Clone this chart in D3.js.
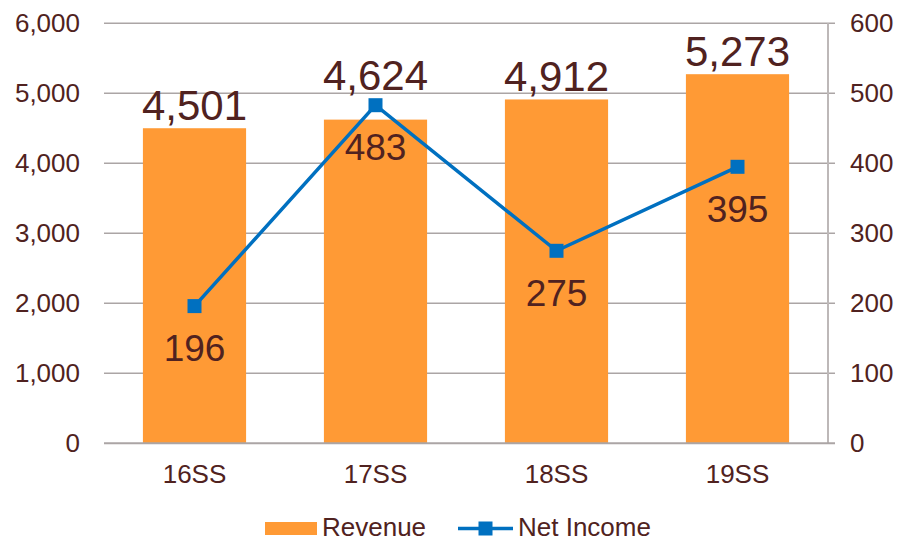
<!DOCTYPE html>
<html>
<head>
<meta charset="utf-8">
<script src="https://cdn.jsdelivr.net/npm/d3@7"></script>
<style>
  body { margin: 0; background: #fff; }
  text { font-family: "Liberation Sans", Arial, sans-serif; fill: #502220; }
</style>
</head>
<body>
<script>
const categories = ['16SS', '17SS', '18SS', '19SS']
const revenue = [4501, 4624, 4912, 5273]
const netIncome = [196, 483, 275, 395]
const leftTicks = [0, 1000, 2000, 3000, 4000, 5000, 6000]
const rightTicks = [0, 100, 200, 300, 400, 500, 600]

const width = 899, height = 541
const plot = { left: 104, right: 828, top: 23.3, bottom: 443.3 }
const barColor = '#FF9A35'
const lineColor = '#0070C0'
const gridColor = '#ABA5A5'

const svg = d3.select('body').append('svg')
  .attr('width', width)
  .attr('height', height)

const x = d3.scaleBand().domain(categories)
  .range([plot.left, plot.right])
  .paddingInner(0.43)
  .paddingOuter(0.215)
const y = d3.scaleLinear().domain([0, 6000]).range([plot.bottom, plot.top])
const y2 = d3.scaleLinear().domain([0, 600]).range([plot.bottom, plot.top])

// gridlines (they run a bit past the right axis, like tick marks)
svg.append('g').selectAll('line')
  .data(leftTicks.filter(d => d > 0))
  .enter().append('line')
  .attr('x1', plot.left)
  .attr('x2', plot.right + 7)
  .attr('y1', d => y(d))
  .attr('y2', d => y(d))
  .attr('stroke', gridColor)
  .attr('stroke-width', 1.5)

// left axis labels
svg.append('g').selectAll('text')
  .data(leftTicks)
  .enter().append('text')
  .attr('x', 80)
  .attr('y', d => y(d))
  .attr('dy', '0.35em')
  .attr('text-anchor', 'end')
  .attr('font-size', '26px')
  .text(d => d3.format(',')(d))

// right axis labels
svg.append('g').selectAll('text')
  .data(rightTicks)
  .enter().append('text')
  .attr('x', 850)
  .attr('y', d => y2(d))
  .attr('dy', '0.35em')
  .attr('font-size', '26px')
  .text(d => d)

// bars
svg.append('g').selectAll('rect')
  .data(revenue)
  .enter().append('rect')
  .attr('x', (d, i) => x(categories[i]))
  .attr('width', x.bandwidth())
  .attr('y', d => y(d))
  .attr('height', d => plot.bottom - y(d))
  .attr('fill', barColor)

// axis lines
svg.append('line')
  .attr('x1', plot.right).attr('x2', plot.right)
  .attr('y1', plot.top).attr('y2', plot.bottom)
  .attr('stroke', '#BDB8B8')
  .attr('stroke-width', 2)
svg.append('line')
  .attr('x1', plot.left).attr('x2', plot.right + 7)
  .attr('y1', plot.bottom).attr('y2', plot.bottom)
  .attr('stroke', gridColor)
  .attr('stroke-width', 2)

// category labels
svg.append('g').selectAll('text')
  .data(categories)
  .enter().append('text')
  .attr('x', d => x(d) + x.bandwidth() / 2)
  .attr('y', 483)
  .attr('text-anchor', 'middle')
  .attr('font-size', '26px')
  .text(d => d)

// net income line
const cx = i => x(categories[i]) + x.bandwidth() / 2
svg.append('path')
  .datum(netIncome)
  .attr('d', d3.line().x((d, i) => cx(i)).y(d => y2(d)))
  .attr('fill', 'none')
  .attr('stroke', lineColor)
  .attr('stroke-width', 3.5)

svg.append('g').selectAll('rect')
  .data(netIncome)
  .enter().append('rect')
  .attr('x', (d, i) => cx(i) - 7)
  .attr('y', d => y2(d) - 7)
  .attr('width', 14)
  .attr('height', 14)
  .attr('fill', lineColor)

// revenue labels, kept clear of the marker
svg.append('g').selectAll('text')
  .data(revenue)
  .enter().append('text')
  .attr('x', (d, i) => cx(i))
  .attr('y', (d, i) => Math.min(y(d), y2(netIncome[i]) - 7) - 8)
  .attr('text-anchor', 'middle')
  .attr('font-size', '42px')
  .text(d => d3.format(',')(d))

// net income labels
svg.append('g').selectAll('text')
  .data(netIncome)
  .enter().append('text')
  .attr('x', (d, i) => cx(i))
  .attr('y', d => y2(d) + 55)
  .attr('text-anchor', 'middle')
  .attr('font-size', '37px')
  .text(d => d)

// legend
const legend = svg.append('g').attr('id', 'legend')
legend.append('rect')
  .attr('x', 265).attr('y', 522)
  .attr('width', 52).attr('height', 13)
  .attr('fill', barColor)
legend.append('text')
  .attr('x', 322).attr('y', 536)
  .attr('font-size', '26px')
  .text('Revenue')
legend.append('line')
  .attr('x1', 458).attr('x2', 513)
  .attr('y1', 528.5).attr('y2', 528.5)
  .attr('stroke', lineColor)
  .attr('stroke-width', 3.5)
legend.append('rect')
  .attr('x', 478.5).attr('y', 521.5)
  .attr('width', 14).attr('height', 14)
  .attr('fill', lineColor)
legend.append('text')
  .attr('x', 518).attr('y', 536)
  .attr('font-size', '26px')
  .text('Net Income')
</script>
</body>
</html>
